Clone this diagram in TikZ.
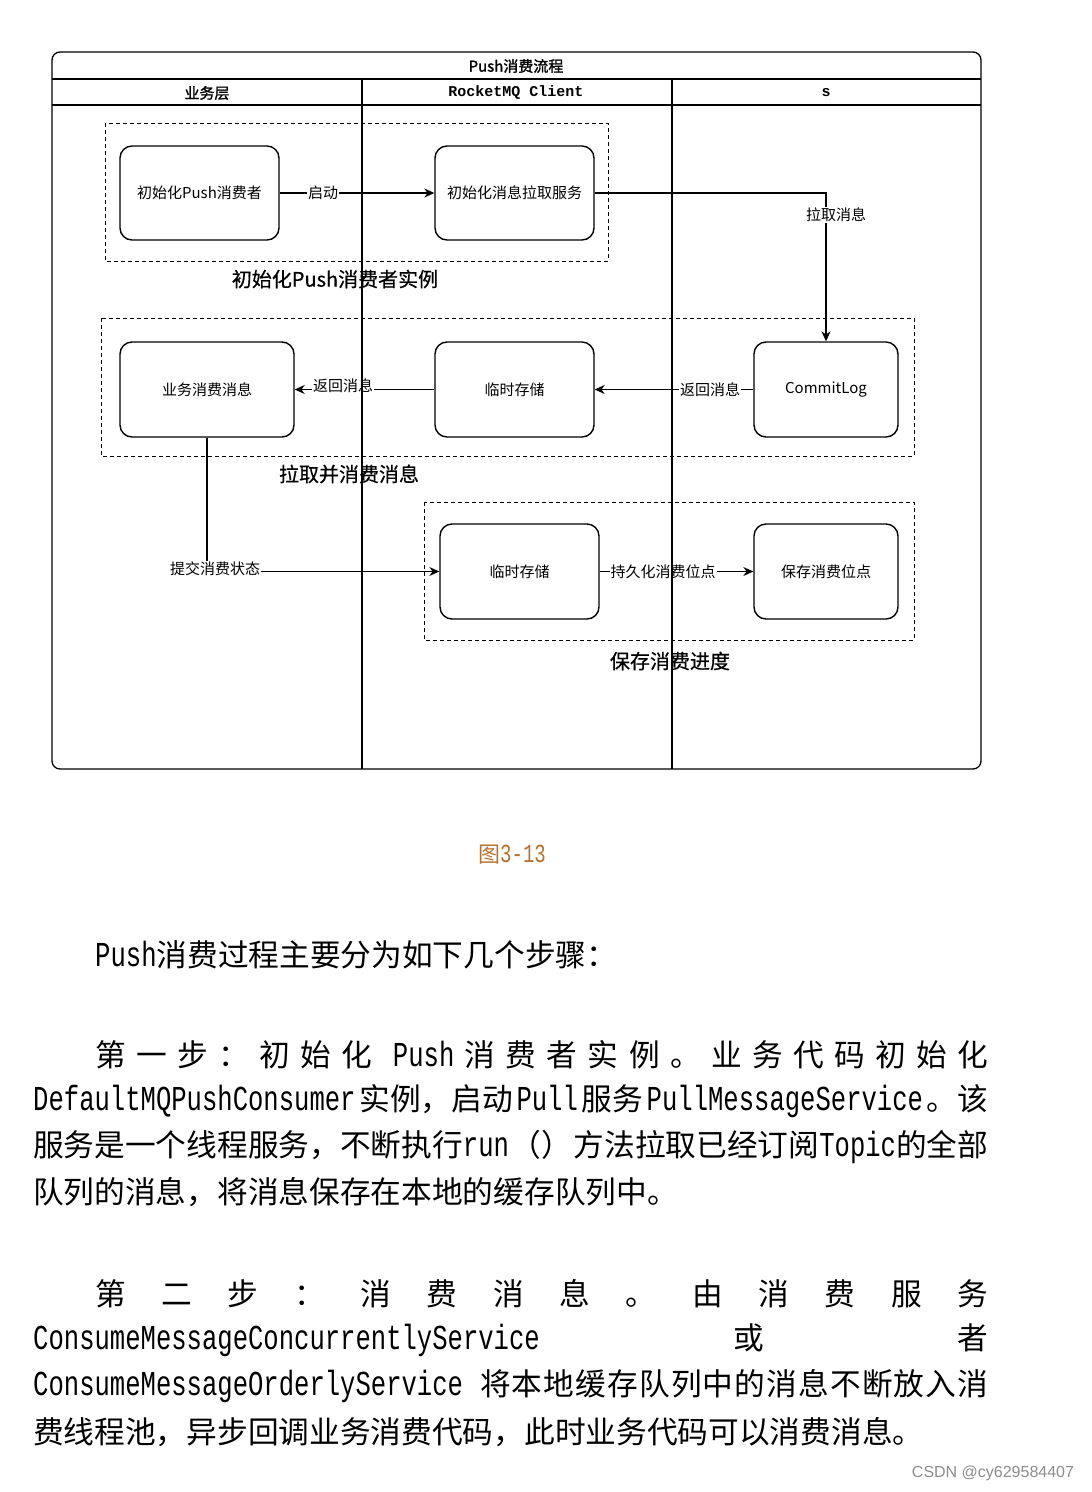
\documentclass[tikz,border=0pt]{standalone}
\usepackage{fontspec}
\usetikzlibrary{arrows.meta}
\newfontfamily\cjk{Noto Sans CJK SC}
\newfontfamily\cjkbold[FakeBold=1.5]{Noto Sans CJK SC}
\newfontfamily\cjkmed[FakeBold=0.6]{Noto Sans CJK SC}
\newfontfamily\monof{Liberation Mono}
\newfontfamily\latf[FakeStretch=0.731]{Liberation Mono}
\newfontfamily\wmf{Liberation Sans}
\newcommand\nfont{\cjk\fontsize{15}{15}\selectfont}
\newcommand\gfont{\cjkmed\fontsize{20}{20}\selectfont}
\newcommand\hfont{\cjkbold\fontsize{15}{15}\selectfont}
\newcommand\bodyfont{\cjk\fontsize{30.7}{30.7}\selectfont}
\newcommand\lat[1]{{\latf\fontsize{35}{35}\selectfont #1}}
\newcommand\gp{\hfil}
\definecolor{capcol}{HTML}{B8702E}
\tikzset{
  proc/.style={draw, rounded corners=12pt, line width=1.4pt, fill=white, font=\nfont, inner sep=0pt},
  grp/.style={draw, dash pattern=on 4pt off 3pt, line width=1pt},
  lbl/.style={fill=white, inner sep=1pt, font=\nfont},
  arr/.style={line width=1.3pt, -{Stealth[length=10pt,width=9pt]}},
  plain/.style={line width=1.3pt},
  body/.style={anchor=west, inner sep=0pt, font=\bodyfont},
  glabel/.style={inner sep=0pt, font=\gfont},
}
\begin{document}
\begin{tikzpicture}[x=1pt,y=-1pt]
\useasboundingbox (0,0) rectangle (1092,1492);
% dashed groups
\draw[grp] (105,123) rectangle (608,261);
\draw[grp] (101,318) rectangle (914,456);
\draw[grp] (424,502) rectangle (914,640);
\node[glabel] (g1) at (335,279) {初始化Push消费者实例};
\node[glabel] (g2) at (349,474) {拉取并消费消息};
\node[glabel] (g3) at (670,661) {保存消费进度};
% process nodes
\node[proc, minimum width=159pt, minimum height=94pt] (A) at (199.5,193) {初始化Push消费者};
\node[proc, minimum width=159pt, minimum height=94pt] (B) at (514.5,193) {初始化消息拉取服务};
\node[proc, minimum width=174pt, minimum height=95pt] (C) at (207,389.5) {业务消费消息};
\node[proc, minimum width=159pt, minimum height=95pt] (D) at (514.5,389.5) {临时存储};
\node[proc, minimum width=144pt, minimum height=95pt] (E) at (826,389.5) {CommitLog};
\node[proc, minimum width=159pt, minimum height=95pt] (F) at (519.5,571.5) {临时存储};
\node[proc, minimum width=144pt, minimum height=95pt] (G) at (826,571.5) {保存消费位点};
% connectors
\draw[arr] (A.east) -- (B.west);
\node[lbl] (l1) at (323,193) {启动};
\coordinate (k1) at (826,193);
\draw[arr] (B.east) -- (k1) -- (E.north);
\node[lbl] (l2) at (836,215) {拉取消息};
\draw[arr] (E.west) -- (D.east);
\node[lbl] (l3) at (710,389.5) {返回消息};
\draw[arr] (D.west) -- (C.east);
\node[lbl] (l4) at (343,386) {返回消息};
\coordinate (k2) at (207,571.5);
\draw[arr] (C.south) -- (k2) -- (F.west);
\node[lbl] (l5) at (215,569) {提交消费状态};
\draw[arr] (F.east) -- (G.west);
\node[lbl] (l6) at (663,571.5) {持久化消费位点};
% frame and lanes
\coordinate (f1) at (52,52);
\coordinate (f2) at (981,769);
\draw[plain, rounded corners=8pt] (f1) rectangle (f2);
\coordinate (h1a) at (52,79);  \coordinate (h1b) at (981,79);
\coordinate (h2a) at (52,105); \coordinate (h2b) at (981,105);
\draw[plain] (h1a) -- (h1b);
\draw[plain] (h2a) -- (h2b);
\coordinate (v1a) at (362,79); \coordinate (v1b) at (362,769);
\coordinate (v2a) at (672,79); \coordinate (v2b) at (672,769);
\draw[plain] (v1a) -- (v1b);
\draw[plain] (v2a) -- (v2b);
\node[inner sep=0pt, font=\hfont] (title) at (516,66) {Push消费流程};
\node[inner sep=0pt, font=\hfont] (lane1) at (207,93) {业务层};
\node[inner sep=0pt, font=\monof\bfseries\fontsize{15}{15}\selectfont] (lane2) at (516,93) {RocketMQ Client};
\node[inner sep=0pt, font=\monof\bfseries\fontsize{15}{15}\selectfont] (lane3) at (826,93) {s};
% caption
\node[inner sep=0pt, text=capcol] (cap) at (512,855) {{\cjk\fontsize{22}{22}\selectfont 图}{\latf\fontsize{26}{26}\selectfont 3-13}};
% body text
\node[body] (t0) at (95,955) {\lat{Push}消费过程主要分为如下几个步骤：};
\node[body] (t1) at (95,1055) {\makebox[893pt][s]{第\gp 一\gp 步\gp ：\gp 初\gp 始\gp 化\gp\gp \lat{Push}\gp 消\gp 费\gp 者\gp 实\gp 例\gp 。\gp 业\gp 务\gp 代\gp 码\gp 初\gp 始\gp 化}};
\node[body] (t2) at (33,1101) {\makebox[955pt][s]{\lat{DefaultMQPushConsumer}\gp 实例，启动\gp\lat{Pull}\gp 服务\gp\lat{PullMessageService}\gp 。该}};
\node[body] (t3) at (33,1147) {\makebox[955pt][s]{服务是一个线程服务，不断执行\lat{run}\gp （）\gp 方法拉取已经订阅\lat{Topic}的全部}};
\node[body] (t4) at (33,1192) {队列的消息，将消息保存在本地的缓存队列中。};
\node[body] (t5) at (95,1294) {\makebox[893pt][s]{第\gp 二\gp 步\gp ：\gp 消\gp 费\gp 消\gp 息\gp 。\gp 由\gp 消\gp 费\gp 服\gp 务}};
\node[body] (t6) at (33,1340) {\makebox[955pt][s]{\lat{ConsumeMessageConcurrentlyService}\gp 或\gp 者}};
\node[body] (t7) at (33,1386) {\makebox[955pt][s]{\lat{ConsumeMessageOrderlyService}\hspace{17pt}将\gp 本\gp 地\gp 缓\gp 存\gp 队\gp 列\gp 中\gp 的\gp 消\gp 息\gp 不\gp 断\gp 放\gp 入\gp 消}};
\node[body] (t8) at (33,1432) {费线程池，异步回调业务消费代码，此时业务代码可以消费消息。};
\node[inner sep=0pt, text=black!45, font=\wmf\fontsize{16}{16}\selectfont] (wm) at (993,1473) {CSDN @cy629584407};
\end{tikzpicture}
\end{document}
